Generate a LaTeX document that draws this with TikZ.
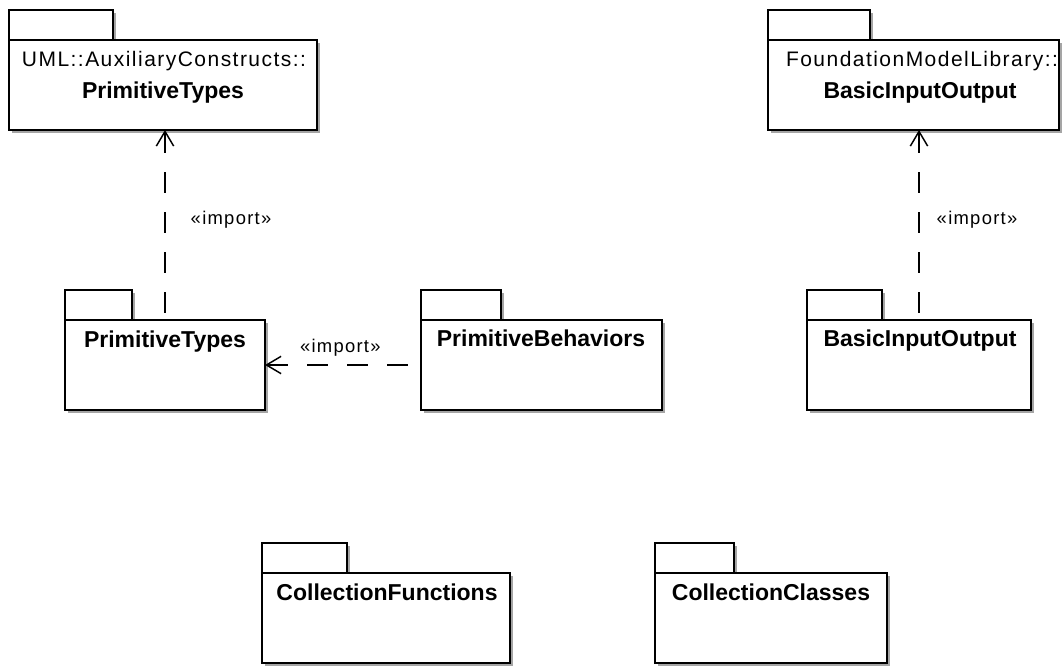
\documentclass[tikz,border=0pt]{standalone}
\usepackage{fontspec}
\setmainfont{Liberation Sans}
\newfontfamily\pkgplain[LetterSpace=7]{Liberation Sans}
\usetikzlibrary{arrows.meta,fit}
\definecolor{shadowgray}{RGB}{165,165,165}
\tikzset{
  pkgline/.style={draw=black, line width=1.1pt, fill=white},
  pkgshadow/.style={fill=shadowgray, draw=none},
  pkgbody/.style={pkgline, inner sep=0pt, outer sep=0pt},
  pkgname/.style={font=\fontsize{17.25pt}{20pt}\selectfont\bfseries, anchor=base, inner sep=0pt},
  pkgprefix/.style={font=\pkgplain\fontsize{15.75pt}{18pt}\selectfont, anchor=base, inner sep=0pt},
  importdep/.style={draw=black, line width=1.1pt, dash pattern=on 15.75pt off 14.25pt,
    arrows={Straight Barb[length=11pt,width=13pt]-}},
  deplabel/.style={font=\pkgplain\fontsize{13.8pt}{16pt}\selectfont, inner sep=0pt},
}
\newcommand\umlpackage[6]{% name, x1, body top, x2, body bottom, tab right
  \fill[pkgshadow] ({#2+3},{#3-27}) rectangle ({#6+3},{#3+3});
  \fill[pkgshadow] ({#2+3},{#3+3}) rectangle ({#4+3},{#5+3});
  \draw[pkgline] (#2,{#3-30}) rectangle (#6,#3);
  \node[pkgbody, fit={(#2,#3) (#4,#5)}] (#1) {};
}
\begin{document}
\begin{tikzpicture}[x=0.75pt,y=-0.75pt]
\useasboundingbox (0,0) rectangle (1064,666);
\fill[white] (0,0) rectangle (1064,666);

\umlpackage{tlpt}{9}{40}{317}{130}{113}
\umlpackage{trbio}{768}{40}{1059}{130}{870}
\umlpackage{pt}{65}{320}{265}{410}{132}
\umlpackage{pb}{421}{320}{662}{410}{501}
\umlpackage{bio}{807}{320}{1031}{410}{882}
\umlpackage{cf}{262}{573}{510}{663}{347}
\umlpackage{cc}{655}{573}{887}{663}{734}

\node[pkgprefix] (tlpt-p) at (164,67) {UML::AuxiliaryConstructs::};
\node[pkgname] (tlpt-n) at (163,99) {PrimitiveTypes};
\node[pkgprefix] (trbio-p) at (922,67) {FoundationModelLibrary::};
\node[pkgname] (trbio-n) at (920,99) {BasicInputOutput};
\node[pkgname] (pt-n) at (165,348) {PrimitiveTypes};
\node[pkgname] (pb-n) at (541,347) {PrimitiveBehaviors};
\node[pkgname] (bio-n) at (920,347) {BasicInputOutput};
\node[pkgname] (cf-n) at (387,600) {CollectionFunctions};
\node[pkgname] (cc-n) at (771,600) {CollectionClasses};

\draw[importdep] (pt.north |- tlpt.south) -- (pt.north)
  node[deplabel, midway, anchor=west, xshift=18.75pt, yshift=4pt] (lbl1) {«import»};
\draw[importdep] (bio.north |- trbio.south) -- (bio.north)
  node[deplabel, midway, anchor=west, xshift=12.75pt, yshift=4pt] (lbl2) {«import»};
\draw[importdep] (pt.east) -- (pb.west)
  node[deplabel, midway, anchor=base, xshift=-2pt, yshift=9pt] (lbl3) {«import»};
\end{tikzpicture}
\end{document}
